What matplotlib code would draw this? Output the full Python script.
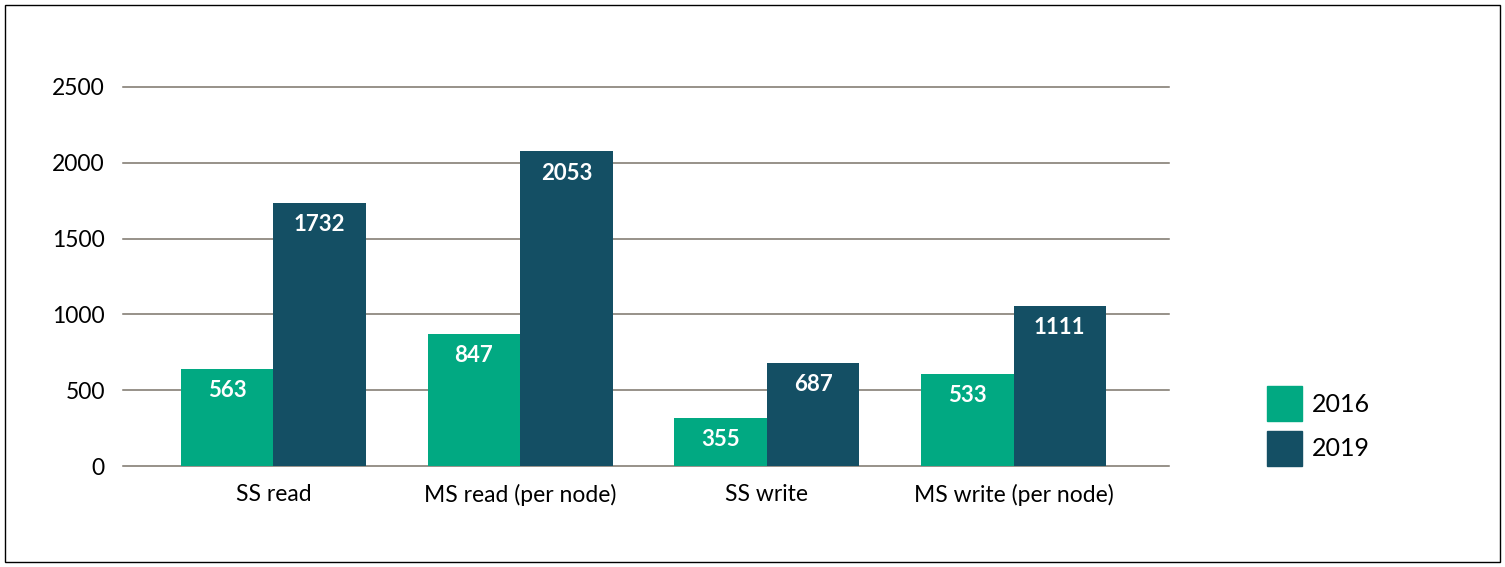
import numpy as np
import matplotlib
matplotlib.use("Agg")
from matplotlib import pyplot as plt
from matplotlib.patches import Rectangle, Patch

plt.rcParams['font.family'] = ['Lato', 'DejaVu Sans']

categories = ["SS read", "MS read (per node)", "SS write", "MS write (per node)"]
series = ["2016", "2019"]
# printed labels
labels_2016 = [563, 847, 355, 533]
labels_2019 = [1732, 2053, 687, 1111]
# bar heights as drawn in the picture
heights_2016 = [642, 873, 320, 609]
heights_2019 = [1737, 2078, 681, 1057]
yticks = [0, 500, 1000, 1500, 2000, 2500]

green = "#01a982"
navy = "#144f64"
gridc = "#7a746a"

fig = plt.figure(figsize=(15.05, 5.67), dpi=100)
ax = fig.add_axes([0.0817, 0.1781, 0.695, 0.6685])

x = np.arange(len(categories))
w = 0.375
b1 = ax.bar(x - w / 2, heights_2016, w, color=green, zorder=3)
b2 = ax.bar(x + w / 2, heights_2019, w, color=navy, zorder=3)

for bars, labs in [(b1, labels_2016), (b2, labels_2019)]:
    for r, lab in zip(bars, labs):
        ax.annotate(str(lab), (r.get_x() + r.get_width() / 2, r.get_height()),
                    xytext=(0, -16), textcoords="offset points",
                    ha="center", va="center", color="white",
                    fontsize=16, fontweight="bold", zorder=4)

ax.set_ylim(0, 2500)
ax.set_xlim(-0.61, 3.63)
ax.set_yticks(yticks)
ax.set_xticks(x)
ax.set_xticklabels(categories)
ax.yaxis.grid(True, color=gridc, linewidth=1.1)
for gl in ax.get_ygridlines():
    gl.set_clip_on(False)
ax.set_axisbelow(True)
for s in ax.spines.values():
    s.set_visible(False)
ax.tick_params(axis="both", length=0, labelsize=16.5, colors="black")
ax.tick_params(axis="y", pad=13)
ax.tick_params(axis="x", pad=13)

handles = [Patch(color=green), Patch(color=navy)]
fig.legend(handles, series, loc="lower left", bbox_to_anchor=(0.842, 0.178),
           frameon=False, fontsize=18, borderpad=0, borderaxespad=0,
           handlelength=1.4, handleheight=1.8, labelspacing=0.38,
           handletextpad=0.4)

fig.patches.append(Rectangle((5 / 1505, 5 / 567), 1495 / 1505, 557 / 567,
                             transform=fig.transFigure, fill=False,
                             edgecolor="black", linewidth=1))

fig.savefig("out.png", dpi=100)
